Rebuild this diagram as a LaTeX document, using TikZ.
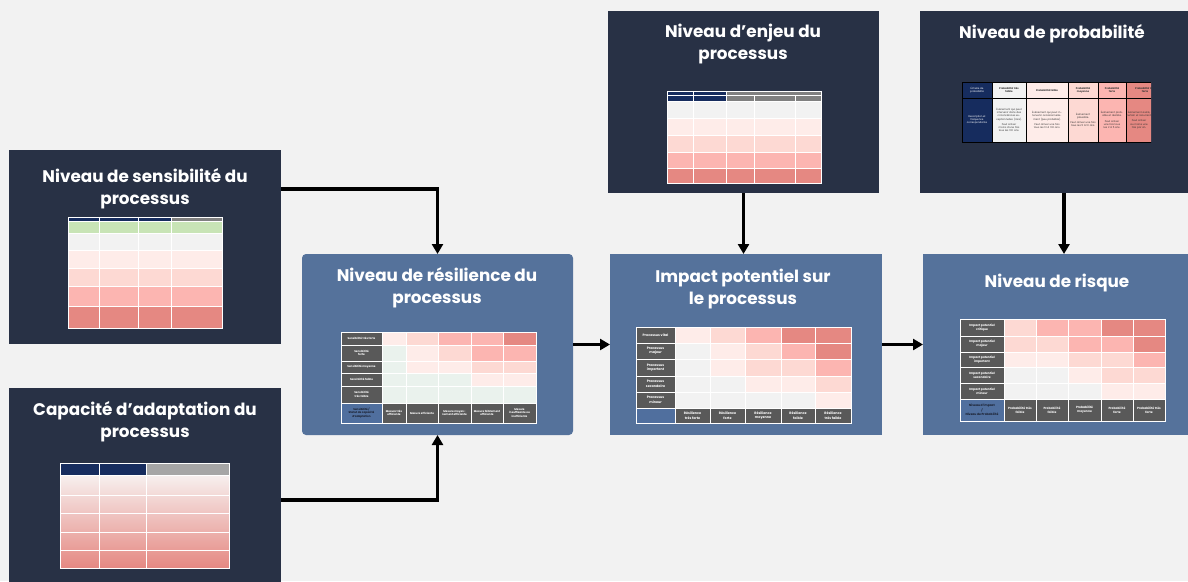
\documentclass[tikz,border=0pt]{standalone}
\usepackage{fontspec}
\setmainfont{Poppins}
\usepackage{tikz}
\usetikzlibrary{positioning,arrows.meta}

\definecolor{pagebg}{RGB}{242,242,242}
\definecolor{darkbg}{RGB}{40,49,69}
\definecolor{bluebg}{RGB}{85,114,155}
\definecolor{navy}{RGB}{22,44,94}
\definecolor{hdrgray}{RGB}{128,128,128}
\definecolor{labgray}{RGB}{89,89,89}
\definecolor{cornerblue}{RGB}{80,111,158}
\definecolor{cornertxt}{RGB}{25,30,45}
\definecolor{hg}{RGB}{242,242,242}
\definecolor{hm}{RGB}{234,242,237}
\definecolor{hv}{RGB}{254,236,233}
\definecolor{hl}{RGB}{253,217,211}
\definecolor{hp}{RGB}{252,181,177}
\definecolor{hs}{RGB}{229,136,130}
\definecolor{hgreen}{RGB}{200,228,182}

% column edges of the current matrix
\newcommand\setcols[7]{\def\cA{#1}\def\cB{#2}\def\cC{#3}\def\cD{#4}\def\cE{#5}\def\cF{#6}\def\cG{#7}}
\newcommand\cellfont{\fontsize{2.8}{3.4}\selectfont\bfseries}
\newcommand\tabname{tab}

% one row: top, bottom, label, five colours
\newcommand\hrow[8]{%
  \path[labcell] (\cA,#1) rectangle (\cB,#2);
  \node[celltxt] (\tabname-#1) at ({(\cA+\cB)/2},{(#1+#2)/2}) {#3};
  \path[heat, fill=#4] (\cB,#1) rectangle (\cC,#2);
  \path[heat, fill=#5] (\cC,#1) rectangle (\cD,#2);
  \path[heat, fill=#6] (\cD,#1) rectangle (\cE,#2);
  \path[heat, fill=#7] (\cE,#1) rectangle (\cF,#2);
  \path[heat, fill=#8] (\cF,#1) rectangle (\cG,#2);
}
% bottom row: top, bottom, corner text, five labels
\newcommand\brow[8]{%
  \path[cornercell] (\cA,#1) rectangle (\cB,#2);
  \node[celltxt, text=cornertxt] (\tabname-c) at ({(\cA+\cB)/2},{(#1+#2)/2}) {#3};
  \path[labcell] (\cB,#1) rectangle (\cC,#2);
  \node[celltxt] (\tabname-b1) at ({(\cB+\cC)/2},{(#1+#2)/2}) {#4};
  \path[labcell] (\cC,#1) rectangle (\cD,#2);
  \node[celltxt] (\tabname-b2) at ({(\cC+\cD)/2},{(#1+#2)/2}) {#5};
  \path[labcell] (\cD,#1) rectangle (\cE,#2);
  \node[celltxt] (\tabname-b3) at ({(\cD+\cE)/2},{(#1+#2)/2}) {#6};
  \path[labcell] (\cE,#1) rectangle (\cF,#2);
  \node[celltxt] (\tabname-b4) at ({(\cE+\cF)/2},{(#1+#2)/2}) {#7};
  \path[labcell] (\cF,#1) rectangle (\cG,#2);
  \node[celltxt] (\tabname-b5) at ({(\cF+\cG)/2},{(#1+#2)/2}) {#8};
}

\begin{document}
\begin{tikzpicture}[x=1pt, y=-1pt,
  darkbox/.style={fill=darkbg, anchor=north west, inner sep=0pt, outer sep=0pt},
  bluebox/.style={fill=bluebg, anchor=north west, inner sep=0pt, outer sep=0pt},
  boxtitle/.style={text=white, align=center, anchor=base, inner sep=0pt, font=\fontsize{16.8}{22}\selectfont\bfseries},
  heat/.style={draw=white, line width=0.7pt},
  thin/.style={draw=white, line width=0.5pt},
  labcell/.style={fill=labgray, draw=white, line width=0.7pt},
  cornercell/.style={fill=cornerblue, draw=white, line width=0.7pt},
  celltxt/.style={text=white, align=center, inner sep=0pt, font=\cellfont},
  ptxt/.style={text=black!80, align=center, inner sep=0pt, font=\fontsize{2.5}{3.2}\selectfont},
  arr/.style={-{Triangle[length=10pt, width=11pt]}, line width=3.2pt}]
  \useasboundingbox (0,0) rectangle (1188,581);
  \clip (0,0) rectangle (1188,581);
  \fill[pagebg] (0,0) rectangle (1188,581);

  % boxes
  \node[darkbox, minimum width=272pt, minimum height=194pt] (sens) at (9,150) {};
  \node[darkbox, minimum width=272pt, minimum height=210pt] (cap) at (9,388) {};
  \node[bluebox, rounded corners=4pt, minimum width=271pt, minimum height=181pt] (resil) at (302,254) {};
  \node[bluebox, minimum width=272pt, minimum height=181pt] (impact) at (610,254) {};
  \node[bluebox, minimum width=282pt, minimum height=181pt] (risque) at (923,254) {};
  \node[darkbox, minimum width=271pt, minimum height=182pt] (enjeu) at (608,11) {};
  \node[darkbox, minimum width=288pt, minimum height=182pt] (proba) at (920,11) {};

  % titles (base = last line)
  \node[boxtitle] (sensT) at (145,204) {Niveau de sensibilité du\\processus};
  \node[boxtitle] (capT) at (145,437) {Capacité d’adaptation du\\processus};
  \node[boxtitle] (resilT) at (437,303) {Niveau de résilience du\\processus};
  \node[boxtitle] (impactT) at (743,304) {Impact potentiel sur\\le processus};
  \node[boxtitle] (risqueT) at (1057,287) {Niveau de risque};
  \node[boxtitle] (enjeuT) at (743,59) {Niveau d’enjeu du\\processus};
  \node[boxtitle] (probaT) at (1052,38) {Niveau de probabilité};

  % sensibilite table
  \foreach \xa/\xb in {68/99,99/138,138/171}
    \path[thin, fill=navy] (\xa,217) rectangle (\xb,221);
  \path[thin, fill=hdrgray] (171,217) rectangle (222,221);
  \foreach \ya/\yb/\cc in {221/233/hgreen,233/250/hg,250/268/hv,268/286/hl,286/306/hp,306/328/hs}
    \foreach \xa/\xb in {68/99,99/138,138/171,171/222}
      \path[thin, fill=\cc] (\xa,\ya) rectangle (\xb,\yb);

  % capacite table
  \path[thin, fill=navy] (60,463) rectangle (99,475);
  \path[thin, fill=navy] (99,463) rectangle (146,475);
  \path[thin, fill=hdrgray!70] (146,463) rectangle (229,475);
  \shade[top color=hg!60!hv, middle color=hl, bottom color=hs] (60,475) rectangle (229,568);
  \foreach \ya/\yb in {475/495,495/513,513/532,532/550,550/568}
    \foreach \xa/\xb in {60/99,99/146,146/229}
      \path[thin] (\xa,\ya) rectangle (\xb,\yb);

  % enjeu table
  \path[thin, fill=navy] (667,91) rectangle (693,95);
  \path[thin, fill=navy] (693,91) rectangle (726,95);
  \path[thin, fill=hdrgray] (726,91) rectangle (821,95);
  \foreach \xa/\xb/\cc in {667/693/navy,693/726/navy,726/754/hdrgray,754/795/hdrgray,795/821/hdrgray}
    \path[thin, fill=\cc] (\xa,95) rectangle (\xb,101);
  \foreach \ya/\yb/\cc in {101/118/hg,118/135/hv,135/152/hl,152/168/hp,168/183/hs}
    \foreach \xa/\xb in {667/693,693/726,726/754,754/795,795/821}
      \path[thin, fill=\cc] (\xa,\ya) rectangle (\xb,\yb);

  % probabilite table
  \begin{scope}
    \clip (950,70) rectangle (1151,150);
    \foreach \xa/\xb/\cc in {962/992/navy,992/1026/hg,1026/1068/hv,1068/1098/hl,1098/1126/hp,1126/1165/hs}
      \path[draw=black, line width=0.7pt, fill=\cc] (\xa,82) rectangle (\xb,142);
    \draw[black, line width=0.7pt] (962,98) -- (1165,98);
    \node[ptxt, text=white] (ph1) at (977,90) {Échelle de\\probabilité};
    \node[ptxt, font=\fontsize{2.5}{3.2}\selectfont\bfseries] (ph2) at (1009,90) {Probabilité très\\faible};
    \node[ptxt, font=\fontsize{2.5}{3.2}\selectfont\bfseries] (ph3) at (1047,90) {Probabilité faible};
    \node[ptxt, font=\fontsize{2.5}{3.2}\selectfont\bfseries] (ph4) at (1083,90) {Probabilité\\moyenne};
    \node[ptxt, font=\fontsize{2.5}{3.2}\selectfont\bfseries] (ph5) at (1112,90) {Probabilité\\forte};
    \node[ptxt, font=\fontsize{2.5}{3.2}\selectfont\bfseries] (ph6) at (1145,90) {Probabilité très\\forte};
    \node[ptxt, text=white] (pb1) at (977,120) {Description et\\fréquence\\correspondante};
    \node[ptxt, text width=30pt] (pb2) at (1009,120) {Événement qui peut intervenir dans des circonstances exceptionnelles (rare).\\[2pt]Peut arriver moins d’une fois tous les 100 ans.};
    \node[ptxt, text width=38pt] (pb3) at (1047,120) {Événement qui peut intervenir occasionnellement (peu probable).\\[2pt]Peut arriver une fois tous les 10 à 100 ans.};
    \node[ptxt, text width=26pt] (pb4) at (1083,120) {Événement plausible.\\[2pt]Peut arriver une fois tous les 5 à 10 ans.};
    \node[ptxt, text width=25pt] (pb5) at (1112,120) {Événement probable et réaliste.\\[2pt]Peut arriver une fois tous les 2 à 5 ans.};
    \node[ptxt, text width=25pt] (pb6) at (1139,120) {Événement avéré, certain et récurrent.\\[2pt]Peut arriver au moins une fois par an.};
  \end{scope}

  % resilience matrix
  \renewcommand\tabname{res}
  \renewcommand\cellfont{\fontsize{2.7}{3.4}\selectfont\bfseries}
  \setcols{341}{382}{406}{438}{471}{503}{536}
  \hrow{332}{345}{Sensibilité très forte}{hv}{hl}{hp}{hp}{hs}
  \hrow{345}{361}{Sensibilité\\forte}{hm}{hv}{hl}{hp}{hp}
  \hrow{361}{373}{Sensibilité moyenne}{hm}{hv}{hv}{hl}{hl}
  \hrow{373}{386}{Sensibilité faible}{hm}{hm}{hm}{hv}{hv}
  \hrow{386}{403}{Sensibilité\\très faible}{hm}{hm}{hm}{hm}{hm}
  \brow{403}{423}{Sensibilité /\\Statut de capacité\\d’adaptation}{Mesure très\\efficiente}{Mesure efficiente}{Mesure moyen-\\nement efficiente}{Mesure faiblement\\efficiente}{Mesure\\insuffisante ou\\inefficiente}

  % impact matrix
  \renewcommand\tabname{imp}
  \renewcommand\cellfont{\fontsize{3.3}{4.4}\selectfont\bfseries}
  \setcols{636}{675}{710}{745}{781}{815}{851}
  \hrow{327}{343}{Processus vital}{hv}{hl}{hp}{hs}{hs}
  \hrow{343}{359}{Processus\\majeur}{hg}{hv}{hl}{hp}{hs}
  \hrow{359}{376}{Processus\\important}{hg}{hv}{hl}{hl}{hp}
  \hrow{376}{392}{Processus\\secondaire}{hg}{hg}{hv}{hv}{hl}
  \hrow{392}{408}{Processus\\mineur}{hg}{hg}{hg}{hg}{hv}
  \brow{408}{423}{}{Résilience\\très forte}{Résilience\\forte}{Résilience\\moyenne}{Résilience\\faible}{Résilience\\très faible}

  % risque matrix
  \renewcommand\tabname{risk}
  \renewcommand\cellfont{\fontsize{3}{4.2}\selectfont\bfseries}
  \setcols{960}{1004}{1036}{1068}{1101}{1133}{1165}
  \hrow{319}{336}{Impact potentiel\\critique}{hl}{hp}{hp}{hs}{hs}
  \hrow{336}{352}{Impact potentiel\\majeur}{hl}{hl}{hp}{hp}{hs}
  \hrow{352}{367}{Impact potentiel\\important}{hv}{hv}{hl}{hl}{hp}
  \hrow{367}{383}{Impact potentiel\\secondaire}{hg}{hg}{hv}{hl}{hl}
  \hrow{383}{399}{Impact potentiel\\mineur}{hg}{hg}{hg}{hv}{hv}
  \brow{399}{421}{Niveau d’impact\\/\\Niveau de Probabilité}{Probabilité très\\faible}{Probabilité\\faible}{Probabilité\\moyenne}{Probabilité\\forte}{Probabilité très\\forte}

  % connectors
  \draw[arr] ([yshift=58pt]sens.east) -| (resil.north);
  \draw[arr] ([yshift=-7pt]cap.east) -| (resil.south);
  \draw[arr] (resil.east) -- (impact.west);
  \draw[arr] (impact.east) -- (risque.west);
  \draw[arr] (enjeu.south) -- (enjeu.south |- impact.north);
  \draw[arr] (proba.south) -- (risque.north);
\end{tikzpicture}
\end{document}
